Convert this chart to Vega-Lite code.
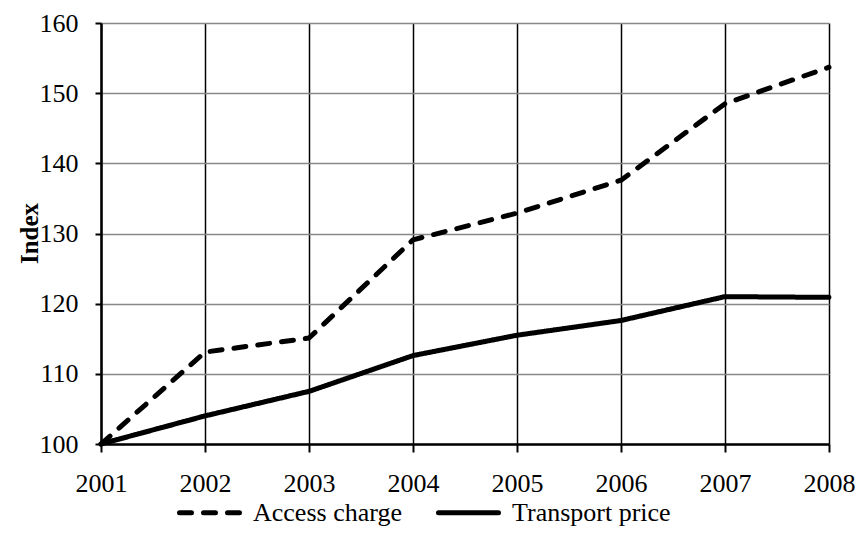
{
  "$schema": "https://vega.github.io/schema/vega-lite/v6.json",
  "autosize": "none",
  "width": 728,
  "height": 421,
  "padding": {"left": 101, "top": 23, "right": 35, "bottom": 93},
  "background": "white",
  "config": {
    "font": "Liberation Serif",
    "view": {"stroke": null}
  },
  "data": {
    "values": [
      {"year": 2001, "series": "Access charge", "value": 100},
      {"year": 2002, "series": "Access charge", "value": 113.1},
      {"year": 2003, "series": "Access charge", "value": 115.1},
      {"year": 2004, "series": "Access charge", "value": 129.1},
      {"year": 2005, "series": "Access charge", "value": 132.9},
      {"year": 2006, "series": "Access charge", "value": 137.6},
      {"year": 2007, "series": "Access charge", "value": 148.5},
      {"year": 2008, "series": "Access charge", "value": 153.7},
      {"year": 2001, "series": "Transport price", "value": 100},
      {"year": 2002, "series": "Transport price", "value": 104.0},
      {"year": 2003, "series": "Transport price", "value": 107.5},
      {"year": 2004, "series": "Transport price", "value": 112.6},
      {"year": 2005, "series": "Transport price", "value": 115.5},
      {"year": 2006, "series": "Transport price", "value": 117.6},
      {"year": 2007, "series": "Transport price", "value": 121.0},
      {"year": 2008, "series": "Transport price", "value": 120.9}
    ]
  },
  "mark": {"type": "line", "strokeWidth": 5, "strokeCap": "round", "strokeJoin": "round", "color": "black"},
  "encoding": {
    "x": {
      "field": "year", "type": "quantitative",
      "scale": {"domain": [2001, 2008], "nice": false, "zero": false},
      "axis": {
        "title": null, "values": [2001, 2002, 2003, 2004, 2005, 2006, 2007, 2008], "format": "d",
        "grid": true, "gridColor": "black", "gridWidth": 1.5, "gridOpacity": 1,
        "domainColor": "black", "domainWidth": 2.5,
        "tickColor": "black", "tickWidth": 2, "tickSize": 8,
        "labelFont": "Liberation Serif", "labelFontSize": 26, "labelColor": "black",
        "labelPadding": 18, "labelFlush": false
      }
    },
    "y": {
      "field": "value", "type": "quantitative",
      "scale": {"domain": [100, 160], "nice": false, "zero": false},
      "axis": {
        "title": "Index", "values": [100, 110, 120, 130, 140, 150, 160],
        "grid": true, "gridColor": "#888888", "gridWidth": 1.5, "gridOpacity": 1,
        "domainColor": "black", "domainWidth": 2.5,
        "tickColor": "black", "tickWidth": 2, "tickSize": 6,
        "labelFont": "Liberation Serif", "labelFontSize": 26, "labelColor": "black",
        "labelPadding": 17,
        "titleFont": "Liberation Serif", "titleFontSize": 25, "titleFontWeight": "bold", "titleColor": "black",
        "titleX": -72, "titleY": 210, "titleBaseline": "middle", "titleAngle": -90
      }
    },
    "strokeDash": {
      "field": "series", "type": "nominal",
      "scale": {"domain": ["Access charge", "Transport price"], "range": [[12, 12], [1, 0]]},
      "legend": {
        "title": null, "orient": "none", "direction": "horizontal",
        "legendX": 76, "legendY": 457,
        "symbolType": "stroke", "symbolSize": 3600, "symbolStrokeWidth": 5, "symbolStrokeColor": "black",
        "labelFont": "Liberation Serif", "labelFontSize": 26, "labelColor": "black",
        "labelOffset": 11, "columnPadding": 26, "labelLimit": 400,
        "encode": {"symbols": {"update": {"strokeCap": {"value": "round"}}}}
      }
    }
  }
}
